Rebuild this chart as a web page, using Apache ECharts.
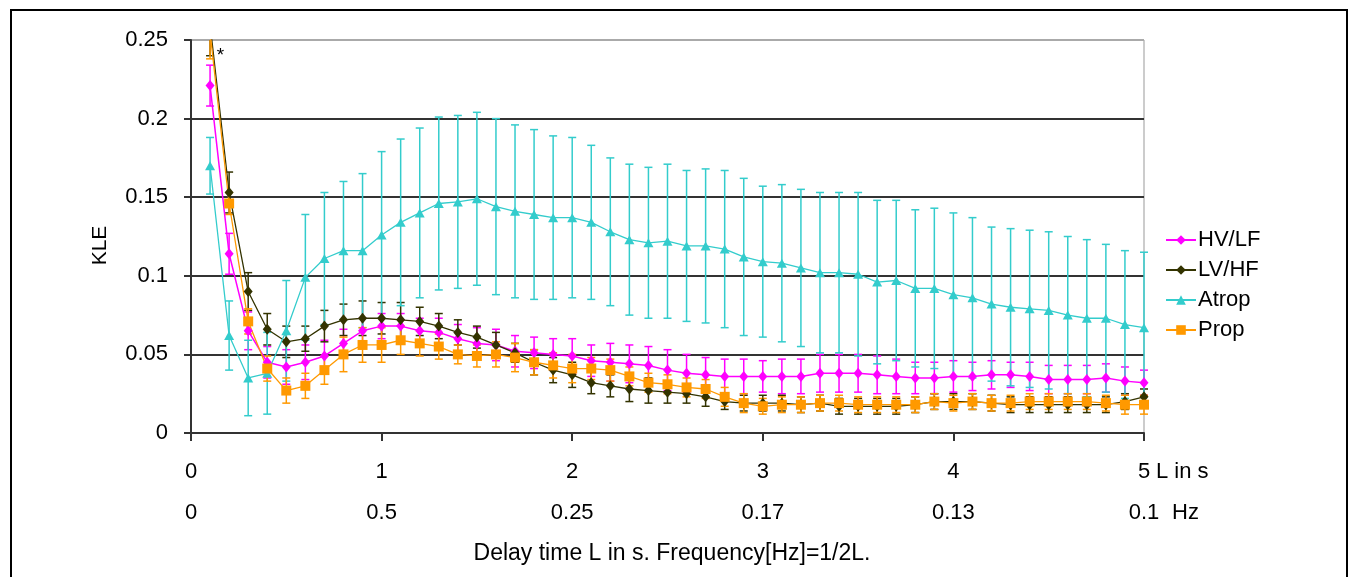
<!DOCTYPE html>
<html>
<head>
<meta charset="utf-8">
<script src="https://cdn.jsdelivr.net/npm/echarts@6/dist/echarts.min.js"></script>
<style>
  html, body { margin: 0; padding: 0; background: #fff; }
  #chart { width: 1357px; height: 577px; }
</style>
</head>
<body>
<div id="chart"></div>
<script>
// delay time L in s
const delays = [0.1, 0.2, 0.3, 0.4, 0.5, 0.6, 0.7, 0.8, 0.9, 1.0,
  1.1, 1.2, 1.3, 1.4, 1.5, 1.6, 1.7, 1.8, 1.9, 2.0,
  2.1, 2.2, 2.3, 2.4, 2.5, 2.6, 2.7, 2.8, 2.9, 3.0,
  3.1, 3.2, 3.3, 3.4, 3.5, 3.6, 3.7, 3.8, 3.9, 4.0,
  4.1, 4.2, 4.3, 4.4, 4.5, 4.6, 4.7, 4.8, 4.9, 5.0]

const hvlfMean = [0.221, 0.114, 0.065, 0.045, 0.042, 0.045, 0.049, 0.057, 0.065, 0.068,
  0.068, 0.065, 0.064, 0.060, 0.057, 0.056, 0.052, 0.051, 0.050, 0.049,
  0.046, 0.045, 0.044, 0.043, 0.040, 0.038, 0.037, 0.036, 0.036, 0.036,
  0.036, 0.036, 0.038, 0.038, 0.038, 0.037, 0.036, 0.035, 0.035, 0.036,
  0.036, 0.037, 0.037, 0.036, 0.034, 0.034, 0.034, 0.035, 0.033, 0.032]
const hvlfSd = [0.013, 0.013, 0.012, 0.010, 0.011, 0.011, 0.010, 0.009, 0.008, 0.008,
  0.008, 0.008, 0.009, 0.009, 0.010, 0.010, 0.010, 0.010, 0.010, 0.011,
  0.010, 0.012, 0.012, 0.012, 0.013, 0.012, 0.011, 0.011, 0.011, 0.010,
  0.011, 0.011, 0.012, 0.012, 0.012, 0.012, 0.011, 0.010, 0.010, 0.010,
  0.009, 0.009, 0.008, 0.009, 0.009, 0.009, 0.009, 0.009, 0.009, 0.008]

const lvhfMean = [0.26, 0.153, 0.090, 0.066, 0.058, 0.060, 0.068, 0.072, 0.073, 0.073,
  0.072, 0.071, 0.068, 0.064, 0.061, 0.056, 0.051, 0.045, 0.040, 0.037,
  0.032, 0.030, 0.028, 0.027, 0.026, 0.025, 0.023, 0.020, 0.019, 0.019,
  0.019, 0.018, 0.019, 0.017, 0.017, 0.017, 0.017, 0.018, 0.020, 0.020,
  0.020, 0.019, 0.018, 0.018, 0.018, 0.018, 0.018, 0.018, 0.020, 0.023]
const lvhfSd = [0.020, 0.013, 0.012, 0.010, 0.010, 0.008, 0.010, 0.010, 0.011, 0.010,
  0.011, 0.009, 0.008, 0.008, 0.007, 0.008, 0.006, 0.008, 0.008, 0.008,
  0.007, 0.007, 0.008, 0.008, 0.007, 0.006, 0.006, 0.005, 0.005, 0.005,
  0.005, 0.005, 0.005, 0.005, 0.005, 0.005, 0.005, 0.005, 0.005, 0.005,
  0.005, 0.005, 0.005, 0.005, 0.005, 0.005, 0.005, 0.005, 0.005, 0.005]

const atropMean = [0.170, 0.062, 0.035, 0.038, 0.065, 0.099, 0.111, 0.116, 0.116, 0.126,
  0.134, 0.140, 0.146, 0.147, 0.149, 0.144, 0.141, 0.139, 0.137, 0.137,
  0.134, 0.128, 0.123, 0.121, 0.122, 0.119, 0.119, 0.117, 0.112, 0.109,
  0.108, 0.105, 0.102, 0.102, 0.101, 0.096, 0.097, 0.092, 0.092, 0.088,
  0.086, 0.082, 0.080, 0.079, 0.078, 0.075, 0.073, 0.073, 0.069, 0.067]
const atropSd = [0.018, 0.022, 0.024, 0.026, 0.032, 0.040, 0.042, 0.044, 0.049, 0.053,
  0.053, 0.054, 0.055, 0.055, 0.055, 0.056, 0.055, 0.054, 0.052, 0.051,
  0.049, 0.047, 0.048, 0.048, 0.049, 0.048, 0.049, 0.050, 0.050, 0.048,
  0.050, 0.050, 0.051, 0.051, 0.052, 0.052, 0.051, 0.050, 0.051, 0.052,
  0.051, 0.049, 0.050, 0.050, 0.050, 0.050, 0.050, 0.047, 0.047, 0.048]

const propMean = [0.255, 0.146, 0.071, 0.041, 0.027, 0.030, 0.040, 0.050, 0.056, 0.056,
  0.059, 0.057, 0.055, 0.050, 0.049, 0.050, 0.048, 0.045, 0.043, 0.041,
  0.041, 0.040, 0.036, 0.032, 0.031, 0.029, 0.028, 0.023, 0.019, 0.017,
  0.018, 0.018, 0.019, 0.019, 0.018, 0.018, 0.018, 0.018, 0.020, 0.019,
  0.020, 0.019, 0.019, 0.020, 0.020, 0.020, 0.020, 0.019, 0.018, 0.018]
const propSd = [0.017, 0.007, 0.008, 0.008, 0.008, 0.008, 0.009, 0.011, 0.011, 0.011,
  0.009, 0.008, 0.008, 0.006, 0.007, 0.008, 0.009, 0.008, 0.008, 0.009,
  0.007, 0.007, 0.006, 0.006, 0.006, 0.006, 0.006, 0.006, 0.006, 0.005,
  0.005, 0.005, 0.005, 0.005, 0.005, 0.005, 0.005, 0.005, 0.005, 0.005,
  0.005, 0.005, 0.005, 0.005, 0.005, 0.005, 0.005, 0.005, 0.006, 0.006]

// second row of x labels: frequency at each delay tick
const hzLabels = ['0', '0.5', '0.25', '0.17', '0.13', '0.1']

const FONT = "'Liberation Sans', Arial, sans-serif"

let groups = [
  { name: 'HV/LF', mean: hvlfMean, sd: hvlfSd, color: '#ff00ff', symbol: 'diamond', size: [9, 11], width: 1.5 },
  { name: 'LV/HF', mean: lvhfMean, sd: lvhfSd, color: '#333300', symbol: 'diamond', size: [9, 11], width: 1.3 },
  { name: 'Atrop', mean: atropMean, sd: atropSd, color: '#33cccc', symbol: 'triangle', size: [10, 9], width: 1.3 },
  { name: 'Prop', mean: propMean, sd: propSd, color: '#ff9900', symbol: 'rect', size: [10, 10], width: 1.3 }
]

function errRender(color) {
  return function (params, api) {
    let cs = params.coordSys
    let x = api.value(0)
    let top = api.coord([x, api.value(2)])
    let bot = api.coord([x, api.value(1)])
    let y1 = Math.max(top[1], cs.y)
    let y2 = Math.min(bot[1], cs.y + cs.height)
    let style = { stroke: color, lineWidth: 1.5 }
    let kids = [{ type: 'line', shape: { x1: top[0], y1: y1, x2: top[0], y2: y2 }, style: style }]
    if (top[1] >= cs.y) kids.push({ type: 'line', shape: { x1: top[0] - 4, y1: top[1], x2: top[0] + 4, y2: top[1] }, style: style })
    if (bot[1] <= cs.y + cs.height) kids.push({ type: 'line', shape: { x1: bot[0] - 4, y1: bot[1], x2: bot[0] + 4, y2: bot[1] }, style: style })
    return { type: 'group', children: kids }
  }
}

let series = []
groups.forEach(g => {
  series.push({
    type: 'custom',
    name: g.name + ' sd',
    renderItem: errRender(g.color),
    data: delays.map((d, i) => [d, g.mean[i] - g.sd[i], g.mean[i] + g.sd[i]]),
    z: 2,
    silent: true
  })
})
groups.forEach(g => {
  let s = {
    type: 'line',
    name: g.name,
    data: delays.map((d, i) => [d, g.mean[i]]),
    symbol: g.symbol,
    symbolSize: g.size,
    showAllSymbol: true,
    clip: true,
    lineStyle: { color: g.color, width: g.width },
    itemStyle: { color: g.color },
    z: 3
  }
  if (g.name === 'LV/HF') {
    s.markPoint = {
      symbol: 'circle',
      symbolSize: 0,
      label: { show: true, formatter: '*', color: '#000', fontSize: 19, fontFamily: FONT },
      data: [{ coord: [0.155, 0.24] }]
    }
  }
  series.push(s)
})

let chart = echarts.init(document.getElementById('chart'))
chart.setOption({
  animation: false,
  textStyle: { fontFamily: FONT },
  title: {
    text: 'Delay time L in s. Frequency[Hz]=1/2L.',
    left: 667,
    textAlign: 'center',
    top: 537,
    textStyle: { fontSize: 23, fontWeight: 'normal', color: '#000', fontFamily: FONT }
  },
  legend: {
    orient: 'vertical',
    left: 1160,
    top: 224,
    itemWidth: 30,
    itemHeight: 12,
    itemGap: 8,
    data: groups.map(g => g.name),
    textStyle: { fontSize: 22, color: '#000', fontFamily: FONT, padding: [0, 0, 0, -3] }
  },
  grid: {
    left: 191,
    right: 213,
    top: 40,
    bottom: 144,
    show: true,
    borderColor: '#999',
    borderWidth: 1
  },
  xAxis: [
    {
      type: 'value',
      min: 0,
      max: 5,
      interval: 1,
      name: 'L in s',
      nameLocation: 'end',
      nameGap: 12,
      nameTextStyle: { fontSize: 22, color: '#000', align: 'left', verticalAlign: 'top', padding: [28, 0, 0, 0] },
      axisLine: { lineStyle: { color: '#333', width: 2 } },
      axisTick: { show: true, length: 8, lineStyle: { color: '#333', width: 2 } },
      axisLabel: { margin: 28, fontSize: 22, color: '#000' },
      splitLine: { show: false }
    },
    {
      type: 'value',
      position: 'bottom',
      min: 0,
      max: 5,
      interval: 1,
      name: 'Hz',
      nameLocation: 'end',
      nameGap: 28,
      nameTextStyle: { fontSize: 22, color: '#000', align: 'left', verticalAlign: 'top', padding: [69, 0, 0, 0] },
      axisLine: { show: false },
      axisTick: { show: false },
      axisLabel: { margin: 69, fontSize: 22, color: '#000', formatter: v => hzLabels[Math.round(v)] },
      splitLine: { show: false }
    }
  ],
  yAxis: {
    type: 'value',
    min: 0,
    max: 0.25,
    interval: 0.05,
    name: 'KLE',
    nameLocation: 'middle',
    nameGap: 80,
    nameTextStyle: { fontSize: 21, color: '#000', padding: [0, 18, 0, 0] },
    axisLine: { show: true, lineStyle: { color: '#333', width: 2 } },
    axisTick: { show: true, length: 7, lineStyle: { color: '#333', width: 2 } },
    axisLabel: { margin: 23, fontSize: 22, color: '#000', formatter: v => String(+v.toFixed(2)) },
    splitLine: { lineStyle: { color: ['#333', '#333', '#333', '#333', '#333', '#aaa'], width: 2 } }
  },
  graphic: [{
    type: 'rect',
    shape: { x: 11, y: 10, width: 1336, height: 600 },
    style: { fill: 'none', stroke: '#000', lineWidth: 2 },
    silent: true
  }],
  series: series
})
</script>
</body>
</html>
